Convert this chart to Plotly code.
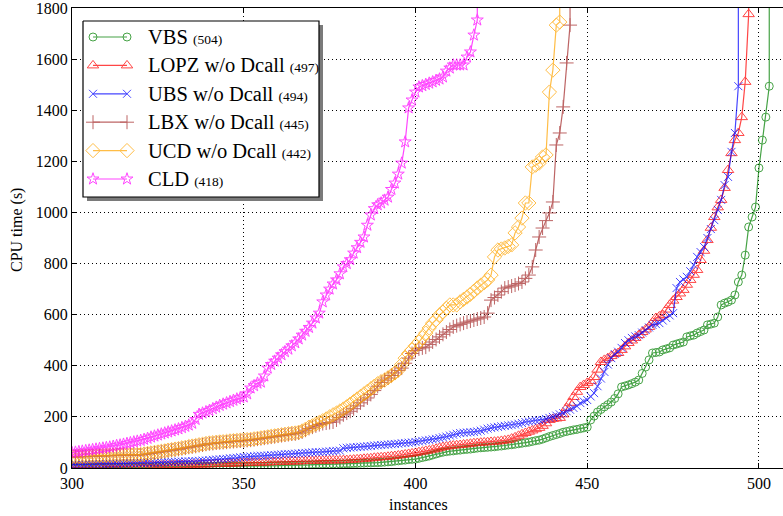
import plotly.graph_objects as go

# ---------------- data ----------------
X_START = 300          # first instance index shown on the x axis
EXIT_Y = 2400          # value used for the vertical "timeout" exit above the plot

names = ["VBS", "LOPZ w/o Dcall", "UBS w/o Dcall", "LBX w/o Dcall", "UCD w/o Dcall", "CLD"]
solved = [504, 497, 494, 445, 442, 418]
x_ticks = [300, 350, 400, 450, 500]
y_ticks = [0, 200, 400, 600, 800, 1000, 1200, 1400, 1600, 1800]

vbs = [1, 1, 1, 1, 1, 2, 2, 2, 2, 2,
       2, 2, 2, 2, 2, 3, 3, 3, 3, 3,
       3, 3, 3, 3, 4, 4, 4, 4, 4, 4,
       4, 5, 5, 5, 5, 5, 5, 6, 6, 6,
       6, 6, 7, 7, 7, 7, 8, 8, 8, 8,
       7, 7, 7, 8, 8, 8, 8, 9, 9, 9,
       9, 10, 10, 10, 11, 11, 11, 12, 12, 12,
       13, 13, 13, 14, 14, 14, 15, 15, 16, 16,
       17, 17, 18, 18, 19, 19, 20, 20, 21, 21,
       22, 23, 24, 25, 27, 28, 30, 31, 33, 34,
       35, 38, 41, 44, 47, 51, 55, 59, 62, 64,
       66, 67, 69, 70, 72, 73, 74, 76, 78, 79,
       80, 81, 82, 83, 85, 86, 88, 90, 91, 93,
       95, 97, 99, 101, 104, 107, 109, 113, 118, 123,
       127, 131, 135, 140, 143, 146, 149, 151, 154, 157,
       160, 188, 203, 219, 229, 239, 248, 258, 272, 290,
       317, 321, 325, 330, 336, 344, 370, 395, 423, 450,
       452, 454, 462, 466, 470, 481, 485, 489, 493, 513,
       517, 520, 528, 534, 540, 560, 563, 567, 591, 638,
       645, 650, 657, 677, 728, 755, 833, 943, 982, 1021,
       1174, 1283, 1373, 1494]

lopz = [2, 2, 3, 3, 3, 3, 4, 4, 4, 4,
        5, 5, 5, 6, 6, 6, 6, 7, 7, 7,
        8, 8, 8, 9, 9, 9, 10, 10, 10, 11,
        11, 11, 12, 12, 12, 13, 13, 14, 14, 14,
        15, 15, 16, 16, 16, 17, 17, 18, 18, 19,
        19, 20, 20, 21, 21, 21, 22, 22, 23, 23,
        24, 24, 25, 25, 26, 26, 26, 27, 27, 28,
        28, 28, 29, 29, 29, 30, 30, 30, 30, 31,
        31, 32, 33, 34, 35, 36, 37, 38, 40, 41,
        42, 43, 44, 46, 47, 49, 51, 53, 55, 57,
        59, 62, 64, 67, 69, 72, 75, 79, 82, 84,
        86, 88, 89, 90, 92, 93, 95, 97, 98, 99,
        100, 101, 102, 103, 104, 106, 108, 110, 115, 120,
        126, 132, 137, 142, 147, 152, 157, 165, 175, 188,
        192, 194, 196, 210, 235, 255, 278, 298, 317, 325,
        333, 340, 356, 385, 415, 423, 430, 438, 446, 450,
        462, 476, 489, 499, 509, 520, 532, 542, 552, 570,
        587, 593, 599, 620, 638, 655, 669, 683, 697, 717,
        736, 756, 775, 814, 850, 892, 940, 982, 1020, 1049,
        1096, 1166, 1232, 1283, 1311, 1373, 1511, 1776]

ubs = [13, 13, 14, 14, 14, 15, 15, 15, 16, 16,
       16, 17, 17, 17, 18, 18, 18, 19, 19, 19,
       20, 20, 21, 21, 21, 22, 22, 23, 23, 24,
       24, 25, 25, 26, 26, 27, 27, 28, 29, 29,
       31, 32, 33, 34, 35, 36, 38, 39, 40, 42,
       43, 44, 45, 46, 47, 48, 48, 49, 50, 51,
       52, 53, 54, 55, 55, 56, 57, 58, 59, 60,
       61, 62, 62, 63, 64, 65, 66, 67, 68, 77,
       79, 80, 81, 82, 83, 84, 85, 86, 88, 89,
       90, 91, 92, 93, 94, 95, 97, 98, 99, 100,
       102, 104, 106, 108, 110, 112, 114, 117, 120, 123,
       127, 130, 134, 137, 138, 139, 140, 141, 143, 146,
       150, 154, 157, 159, 161, 163, 165, 167, 168, 170,
       173, 176, 180, 182, 184, 186, 187, 188, 192, 196,
       200, 205, 210, 215, 222, 228, 235, 242, 254, 260,
       266, 280, 293, 320, 350, 376, 405, 430, 446, 455,
       470, 489, 500, 509, 515, 520, 530, 540, 550, 560,
       563, 567, 577, 587, 597, 606, 704, 728, 738, 748,
       770, 794, 826, 845, 865, 900, 935, 970, 1010, 1049,
       1107, 1139, 1237, 1311, 1494]

lbx = [43, 43, 44, 44, 45, 45, 46, 46, 47, 47,
       48, 48, 49, 49, 50, 50, 50, 51, 51, 51,
       51, 53, 55, 57, 59, 61, 63, 65, 67, 69,
       71, 73, 76, 78, 81, 83, 85, 88, 90, 93,
       95, 96, 98, 99, 100, 101, 103, 104, 105, 106,
       107, 108, 109, 111, 113, 115, 117, 119, 121, 123,
       125, 127, 129, 131, 133, 134, 137, 141, 148, 155,
       160, 165, 170, 174, 176, 178, 180, 188, 198, 208,
       215, 222, 232, 243, 255, 266, 274, 288, 303, 320,
       335, 344, 352, 362, 372, 382, 391, 410, 430, 448,
       460, 466, 470, 473, 483, 493, 503, 513, 523, 532,
       542, 552, 557, 562, 567, 571, 575, 579, 583, 587,
       591, 606, 657, 667, 677, 690, 704, 708, 712, 716,
       722, 728, 742, 755, 787, 853, 904, 939, 968, 998,
       1041, 1264, 1311, 1413, 1585, 1733]

ucd = [45, 45, 46, 46, 47, 47, 48, 48, 49, 49,
       50, 50, 51, 51, 52, 52, 52, 53, 53, 53,
       53, 55, 57, 59, 61, 63, 65, 67, 70, 72,
       74, 76, 79, 81, 84, 86, 88, 91, 93, 96,
       98, 99, 101, 102, 103, 104, 106, 107, 108, 109,
       110, 111, 112, 114, 116, 118, 120, 122, 124, 126,
       128, 130, 132, 134, 136, 137, 140, 145, 152, 160,
       165, 172, 178, 185, 192, 200, 208, 215, 223, 231,
       240, 250, 260, 270, 280, 290, 300, 310, 320, 330,
       338, 344, 353, 362, 372, 383, 405, 430, 448, 462,
       478, 493, 510, 528, 548, 567, 580, 599, 610, 625,
       638, 638, 638, 650, 660, 669, 680, 692, 704, 715,
       725, 736, 755, 826, 853, 857, 861, 867, 873, 920,
       943, 978, 1037, 1037, 1178, 1185, 1193, 1217, 1225, 1471,
       1557, 1733, 1745]

cld = [60, 62, 64, 66, 68, 70, 72, 74, 76, 78,
       80, 82, 85, 88, 90, 93, 96, 99, 102, 105,
       108, 112, 116, 121, 125, 129, 133, 137, 141, 145,
       149, 153, 158, 163, 168, 175, 190, 210, 215, 220,
       225, 232, 238, 245, 250, 255, 260, 265, 270, 275,
       278, 290, 313, 322, 332, 336, 360, 391, 405, 418,
       430, 443, 455, 465, 478, 490, 505, 520, 535, 550,
       567, 587, 606, 650, 677, 700, 720, 736, 760, 787,
       800, 815, 841, 862, 883, 904, 950, 990, 1015, 1030,
       1037, 1048, 1060, 1090, 1115, 1150, 1193, 1276, 1409, 1440,
       1471, 1491, 1496, 1501, 1506, 1511, 1517, 1522, 1530, 1553,
       1565, 1577, 1577, 1577, 1577, 1608, 1628, 1694, 1753]

series = [vbs, lopz, ubs, lbx, ucd, cld]

# ---------------- styling ----------------
colors = ["#008000", "#ff0000", "#0000ff", "#a52a2a", "#ffa500", "#ff00ff"]
symbols = ["circle-open", "triangle-up-open", "x-thin-open", "cross-thin-open",
           "diamond-open", "star-open"]
msizes = [8, 10, 8, 10, 11, 9]
OPAC = 0.72
FONT = "Liberation Serif"
W, H = 783, 516
ML, MR, MT, MB = 72, 0, 8, 48
PW, PH = W - ML - MR, H - MT - MB


def to_px_axes(px, py):
    """image pixel -> overlay-axes coords (pixels inside the plot area)"""
    return px - ML, (H - MB) - py


def to_paper(px, py):
    return (px - ML) / PW, (H - MB - py) / PH


fig = go.Figure()
for name, ys, col, sym, ms in zip(names, series, colors, symbols, msizes):
    xs = list(range(X_START, X_START + len(ys)))
    fig.add_trace(go.Scatter(
        x=xs + [xs[-1]], y=list(ys) + [EXIT_Y], mode="lines+markers", name=name,
        line=dict(color=col, width=1.2),
        marker=dict(symbol=sym, size=ms, color=col, line=dict(color=col, width=1)),
        opacity=OPAC, showlegend=False,
    ))

# ---------------- custom legend (matplotlib style, shadowed box) ----------------
bx0, by0, bx1, by1 = 83, 21, 319, 197
shadow = 4
row_y0, row_step = 37, 28.4
key_x0, key_x1, text_x = 93, 127, 146


def rect(x0, y0, x1, y1):
    a0, b0 = to_px_axes(x0, y0)
    a1, b1 = to_px_axes(x1, y1)
    return [a0, a1, a1, a0, a0], [b0, b0, b1, b1, b0]


sxs, sys_ = rect(bx0 + shadow, by0 + shadow, bx1 + shadow, by1 + shadow)
fig.add_trace(go.Scatter(x=sxs, y=sys_, xaxis="x2", yaxis="y2", mode="lines", fill="toself",
                         fillcolor="#7a7a7a", line=dict(width=0, color="#7a7a7a"),
                         showlegend=False, hoverinfo="skip"))
bxs, bys = rect(bx0, by0, bx1, by1)
fig.add_trace(go.Scatter(x=bxs, y=bys, xaxis="x2", yaxis="y2", mode="lines", fill="toself",
                         fillcolor="white", line=dict(width=1.2, color="black"),
                         showlegend=False, hoverinfo="skip"))

annotations = []
for i, (name, n, col, sym, ms) in enumerate(zip(names, solved, colors, symbols, msizes)):
    ry = row_y0 + i * row_step
    ax0, ay = to_px_axes(key_x0, ry)
    ax1, _ = to_px_axes(key_x1, ry)
    fig.add_trace(go.Scatter(
        x=[ax0, ax1], y=[ay, ay], xaxis="x2", yaxis="y2", mode="lines+markers",
        line=dict(color=col, width=1.2),
        marker=dict(symbol=sym, size=ms, color=col, line=dict(color=col, width=1)),
        opacity=OPAC, showlegend=False, hoverinfo="skip"))
    tx, ty = to_px_axes(text_x, ry)
    annotations.append(dict(
        text=f"{name} <span style='font-size:13.5px'>({n})</span>",
        xref="x2", yref="y2", x=tx, y=ty, xanchor="left", yanchor="middle",
        showarrow=False, font=dict(family=FONT, size=20.5, color="black")))

tx, ty = to_paper(418, 504)
yx, yy_ = to_paper(17, 230)
annotations += [
    dict(text="instances", xref="paper", yref="paper", x=tx, y=ty,
         showarrow=False, font=dict(family=FONT, size=16), xanchor="center", yanchor="middle"),
    dict(text="CPU time (s)", xref="paper", yref="paper", x=yx, y=yy_, textangle=-90,
         showarrow=False, font=dict(family=FONT, size=16), xanchor="center", yanchor="middle"),
]

fig.update_layout(
    width=W, height=H,
    margin=dict(l=ML, r=MR, t=MT, b=MB),
    paper_bgcolor="white", plot_bgcolor="white",
    font=dict(family=FONT, size=16, color="black"),
    showlegend=False,
    annotations=annotations,
    xaxis=dict(range=[300, 507], tickvals=x_ticks, ticks="inside", ticklen=5,
               tickcolor="black", showline=True, linecolor="black", linewidth=1.3,
               mirror="ticks", showgrid=True, gridcolor="black", griddash="1px,3px",
               gridwidth=1, zeroline=False, tickfont=dict(family=FONT, size=16),
               ticklabeloverflow="allow", ticklabelstandoff=1),
    yaxis=dict(range=[0, 1800], tickvals=y_ticks, ticks="inside", ticklen=5,
               tickcolor="black", showline=True, linecolor="black", linewidth=1.3,
               showgrid=True, gridcolor="black", griddash="1px,3px", gridwidth=1,
               zeroline=False, tickfont=dict(family=FONT, size=16),
               ticklabeloverflow="allow"),
    xaxis2=dict(overlaying="x", range=[0, PW], visible=False, showgrid=False,
                zeroline=False, fixedrange=True),
    yaxis2=dict(overlaying="y", range=[0, PH], visible=False, showgrid=False,
                zeroline=False, fixedrange=True),
)

fig.write_html("out.html", config={"displayModeBar": False},
               post_script="document.body.style.margin='0';document.body.style.overflow='hidden';")
